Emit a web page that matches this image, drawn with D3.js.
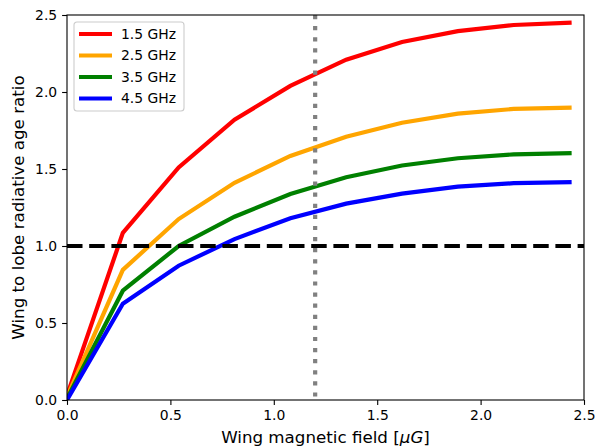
<!DOCTYPE html>
<html>
<head>
<meta charset="utf-8">
<script src="https://cdn.jsdelivr.net/npm/d3@7"></script>
<style>
  html, body { margin: 0; padding: 0; background: #fff; }
  svg { display: block; font-family: "DejaVu Sans", sans-serif; }
</style>
</head>
<body>
<svg id="chart" width="597" height="446"></svg>
<script>
// Wing magnetic field samples [μG]
const fieldValues = [0, 0.27, 0.54, 0.81, 1.08, 1.35, 1.62, 1.89, 2.16, 2.43];

// Wing-to-lobe radiative age ratio per observing frequency
const ratio15 = [0.03, 1.085, 1.51, 1.82, 2.04, 2.21, 2.325, 2.395, 2.435, 2.45];
const ratio25 = [0.02, 0.845, 1.175, 1.41, 1.585, 1.71, 1.80, 1.86, 1.89, 1.898];
const ratio35 = [0.01, 0.71, 1.0, 1.19, 1.338, 1.446, 1.523, 1.57, 1.595, 1.603];
const ratio45 = [0.0, 0.625, 0.872, 1.045, 1.18, 1.275, 1.34, 1.385, 1.408, 1.415];

const seriesNames = ["1.5 GHz", "2.5 GHz", "3.5 GHz", "4.5 GHz"];
const seriesColors = ["#ff0000", "#ffa500", "#008000", "#0000ff"];

const xTicks = [0, 0.5, 1.0, 1.5, 2.0, 2.5];
const yTicks = [0, 0.5, 1.0, 1.5, 2.0, 2.5];

const unityRatio = 1.0;      // horizontal reference
const referenceField = 1.2;  // vertical reference [μG]

const series = [ratio15, ratio25, ratio35, ratio45].map((vals, i) => ({
  name: seriesNames[i],
  color: seriesColors[i],
  points: vals.map((v, j) => [fieldValues[j], v])
}));

const svg = d3.select("#chart");
const margin = { left: 67, right: 12, top: 15, bottom: 46 };
const W = 597, H = 446;

const x = d3.scaleLinear().domain([0, 2.5]).range([margin.left, W - margin.right - 1]);
const y = d3.scaleLinear().domain([0, 2.5]).range([H - margin.bottom, margin.top]);

const fmt = d3.format(".1f");

const plot = svg.append("g");

// clip to the axes area
svg.append("defs").append("clipPath").attr("id", "clip")
  .append("rect")
  .attr("x", x(0)).attr("y", y(2.5))
  .attr("width", x(2.5) - x(0)).attr("height", y(0) - y(2.5));

const lines = plot.append("g").attr("clip-path", "url(#clip)");

const line = d3.line().x(d => x(d[0])).y(d => y(d[1]));

series.forEach(s => {
  lines.append("path")
    .datum(s.points)
    .attr("fill", "none")
    .attr("stroke", s.color)
    .attr("stroke-width", 4.2)
    .attr("stroke-linejoin", "miter")
    .attr("stroke-linecap", "square")
    .attr("d", line);
});

// unity ratio line
lines.append("line")
  .attr("x1", x(0)).attr("x2", x(2.5))
  .attr("y1", y(unityRatio)).attr("y2", y(unityRatio))
  .attr("stroke", "#000")
  .attr("stroke-width", 4.2)
  .attr("stroke-dasharray", "15.5,6.7");

// reference field line
lines.append("line")
  .attr("x1", x(referenceField)).attr("x2", x(referenceField))
  .attr("y1", y(2.5)).attr("y2", y(0))
  .attr("stroke", "#808080")
  .attr("stroke-width", 4.2)
  .attr("stroke-dasharray", "4.2,6.9");

// axes frame
plot.append("rect")
  .attr("x", x(0)).attr("y", y(2.5))
  .attr("width", x(2.5) - x(0)).attr("height", y(0) - y(2.5))
  .attr("fill", "none").attr("stroke", "#000").attr("stroke-width", 1.1);

const xAxis = d3.axisBottom(x).tickValues(xTicks).tickFormat(fmt).tickSize(4.9).tickPadding(4.9);
const yAxis = d3.axisLeft(y).tickValues(yTicks).tickFormat(fmt).tickSize(4.9).tickPadding(4.9);

const gx = svg.append("g").attr("transform", `translate(0,${y(0)})`).call(xAxis);
const gy = svg.append("g").attr("transform", `translate(${x(0)},0)`).call(yAxis);
[gx, gy].forEach(g => {
  g.select(".domain").remove();
  g.selectAll(".tick line").attr("stroke", "#000").attr("stroke-width", 1.1);
  g.selectAll(".tick text").attr("fill", "#000")
    .style("font-family", "'DejaVu Sans', sans-serif").style("font-size", "13.9px");
});

// axis titles
const xl = svg.append("text")
  .attr("x", (x(0) + x(2.5)) / 2).attr("y", 443)
  .attr("text-anchor", "middle")
  .style("font-size", "16.7px").attr("fill", "#000");
xl.append("tspan").text("Wing magnetic field [");
xl.append("tspan").style("font-style", "italic").text("\u03bcG");
xl.append("tspan").text("]");

svg.append("text")
  .attr("transform", `translate(24,${(y(0) + y(2.5)) / 2}) rotate(-90)`)
  .attr("text-anchor", "middle")
  .style("font-size", "16.7px").attr("fill", "#000")
  .text("Wing to lobe radiative age ratio");

// legend
const lg = svg.append("g").attr("transform", `translate(${x(0) + 7},${y(2.5) + 7})`);
lg.append("rect")
  .attr("x", 0).attr("y", 0).attr("width", 110).attr("height", 89)
  .attr("rx", 3).attr("fill", "#fff").attr("fill-opacity", 0.8)
  .attr("stroke", "#cccccc").attr("stroke-width", 1.1);
series.forEach((s, i) => {
  const row = lg.append("g").attr("transform", `translate(0,${12 + i * 21.5})`);
  row.append("line").attr("x1", 5).attr("x2", 38).attr("y1", 0).attr("y2", 0)
    .attr("stroke", s.color).attr("stroke-width", 4.2);
  row.append("text").attr("x", 47).attr("y", 0).attr("dy", "0.35em")
    .style("font-size", "13.9px").attr("fill", "#000").text(s.name);
});
</script>
</body>
</html>
